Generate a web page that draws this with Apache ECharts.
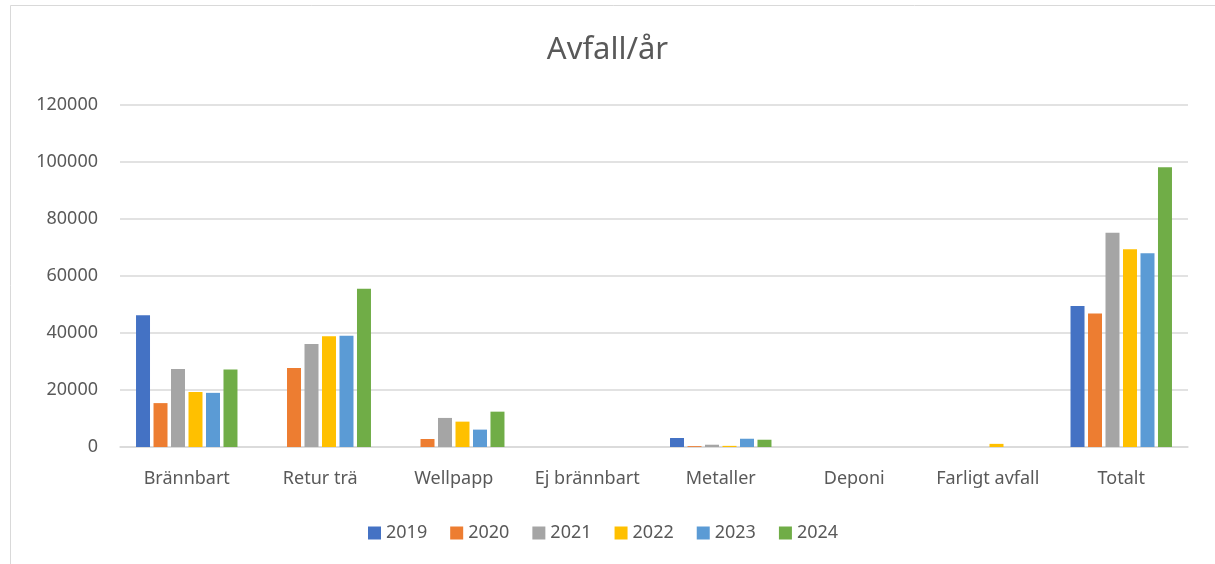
<!DOCTYPE html>
<html lang="sv">
<head>
<meta charset="UTF-8">
<title>Avfall/år</title>
<style>
  html, body { margin: 0; padding: 0; background: #fff; }
  #chart { width: 1215px; height: 564px; }
</style>
</head>
<body>
<div id="chart"></div>
<script src="https://cdn.jsdelivr.net/npm/echarts@6/dist/echarts.min.js"></script>
<script>
var categories = ['Brännbart', 'Retur trä', 'Wellpapp', 'Ej brännbart', 'Metaller', 'Deponi', 'Farligt avfall', 'Totalt'];
var years = ['2019', '2020', '2021', '2022', '2023', '2024'];
var colors = ['#4472C4', '#ED7D31', '#A5A5A5', '#FFC000', '#5B9BD5', '#70AD47'];

var v2019 = [46200, 0, 0, 0, 3150, 0, 0, 49500];
var v2020 = [15400, 27700, 2800, 0, 300, 0, 0, 46800];
var v2021 = [27400, 36100, 10200, 0, 800, 0, 0, 75200];
var v2022 = [19300, 38900, 8900, 0, 400, 0, 1100, 69400];
var v2023 = [19000, 39000, 6100, 0, 2900, 0, 0, 68000];
var v2024 = [27200, 55500, 12400, 0, 2550, 0, 0, 98200];
var values = [v2019, v2020, v2021, v2022, v2023, v2024];

var font = 'Noto Sans';
var textColor = '#595959';

var series = [];
for (var i = 0; i < years.length; i++) {
  series.push({
    name: years[i],
    type: 'bar',
    data: values[i],
    barGap: '25%',
    barCategoryGap: '24%',
    itemStyle: { color: colors[i] }
  });
}

var chart = echarts.init(document.getElementById('chart'));
chart.setOption({
  animation: false,
  title: {
    text: 'Avfall/år',
    left: 'center',
    top: 30,
    textStyle: { fontFamily: font, fontSize: 31, fontWeight: 'normal', color: textColor }
  },
  graphic: [{
    type: 'rect',
    shape: { x: 10.5, y: 5.5, width: 1220, height: 600 },
    style: { fill: 'none', stroke: '#d9d9d9', lineWidth: 1 },
    silent: true
  }],
  legend: {
    data: years,
    bottom: 17,
    left: 363,
    itemWidth: 13,
    itemHeight: 13,
    itemGap: 23,
    icon: 'rect',
    textStyle: { fontFamily: font, fontSize: 18, color: textColor }
  },
  grid: { left: 120, right: 27, top: 105, bottom: 117 },
  xAxis: {
    type: 'category',
    data: categories,
    axisLine: { lineStyle: { color: '#d9d9d9', width: 1.5 } },
    axisTick: { show: false },
    axisLabel: { interval: 0, fontFamily: font, fontSize: 18, color: textColor, margin: 23 }
  },
  yAxis: {
    type: 'value',
    min: 0,
    max: 120000,
    interval: 20000,
    axisLine: { show: false },
    axisTick: { show: false },
    splitLine: { lineStyle: { color: '#d9d9d9', width: 1.5 } },
    axisLabel: {
      fontFamily: font, fontSize: 18, color: textColor, margin: 22,
      formatter: function (v) { return String(v); }
    }
  },
  series: series
});
</script>
</body>
</html>
